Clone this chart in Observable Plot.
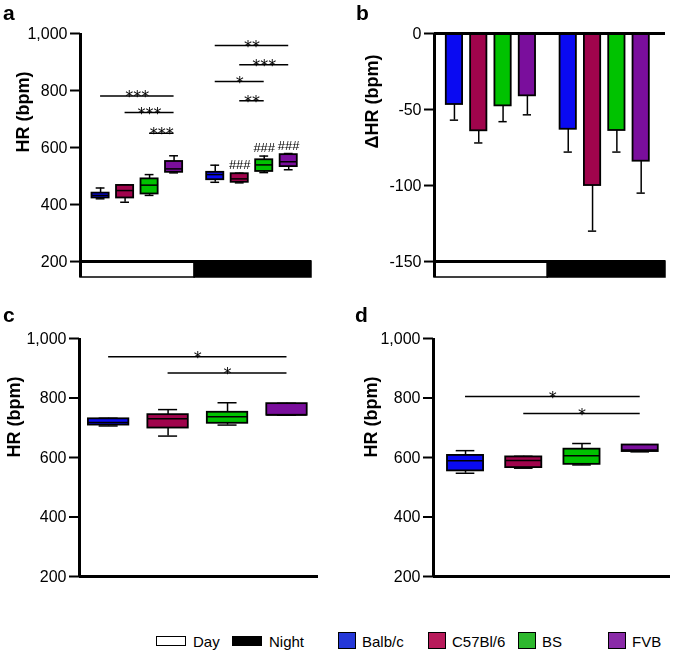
<!DOCTYPE html>
<html><head><meta charset="utf-8">
<script src="https://cdn.jsdelivr.net/npm/d3@7"></script>
<script src="https://cdn.jsdelivr.net/npm/@observablehq/plot@0.6"></script>
<style>
html,body{margin:0;padding:0;background:#fff;}
#fig{position:relative;width:675px;height:653px;overflow:hidden;font-family:"Liberation Sans",Arial,sans-serif;color:#000;}
.panel{position:absolute;will-change:transform;}
.plabel{position:absolute;font-weight:bold;font-size:21px;line-height:22px;}
.leg{position:absolute;font-size:15px;line-height:15px;white-space:nowrap;}
.sw{position:absolute;box-sizing:border-box;border:1.5px solid #000;}
</style></head><body><div id="fig"></div><script>
// ---------- data ----------
const strains = ["Balb/c", "C57Bl/6", "BS", "FVB"];
const strainColors = ["#0a0af2", "#a0044c", "#00c200", "#7a0e9c"];
const legendColors = ["#2538d8", "#b81b5b", "#2db82d", "#8a2ba8"];
const periods = ["Day", "Night"];
const periodFills = ["white", "black"];

// box stats: [min, q1, median, q3, max] per strain
const aDayStats = [[420, 423, 432, 440, 458], [408, 423, 449, 467, 469], [432, 437, 468, 490, 505], [511, 513, 525, 551, 571]];
const aNightStats = [[478, 487, 505, 513, 538], [476, 478, 490, 508, 510], [512, 516, 539, 557, 570], [522, 533, 550, 575, 579]];
const aNightHash = ["", "###", "###", "###"];
// significance: [fromStrain, toStrain, y, label]
const aSigDay = [[0, 3, 781, "***"], [1, 3, 723, "***"], [2, 3, 650, "***"]];
const aSigNight = [[0, 3, 958, "**"], [1, 3, 890, "***"], [0, 2, 832, "*"], [1, 2, 764, "**"]];

const bDayMean = [-46.7, -64, -47.6, -41];
const bDayErr = [10.3, 8, 10.4, 12.5];
const bNightMean = [-63, -100, -63.8, -84];
const bNightErr = [15, 30, 14.2, 21];

const cStats = [[706, 709, 718, 730, 732], [672, 699, 730, 744, 761], [709, 715, 737, 752, 784], [742, 742, 743, 781, 782]];
const cSig = [[0, 3, 939, "*"], [1, 3, 884, "*"]];
const dStats = [[547, 555, 589, 607, 623], [564, 566, 590, 602, 604], [575, 577, 606, 628, 647], [619, 620, 625, 642, 643]];
const dSig = [[0, 3, 805, "*"], [1, 3, 748, "*"]];

const hrTicks = [200, 400, 600, 800, 1000];
const dhrTicks = [0, -50, -100, -150];

// ---------- layout ----------
const nightOffset = 4.68;
const split = (3 + nightOffset) / 2;
const fig = document.getElementById("fig");
const font = "'Liberation Sans', Arial, sans-serif";
const baseStyle = {fontSize: "16px", fontFamily: font, color: "black", background: "transparent", overflow: "visible"};
const colorScale = {domain: strains, range: strainColors};

function boxRows(stats, offset) {
  return stats.map((s, i) => ({strain: strains[i], i, pos: i + offset, min: s[0], q1: s[1], median: s[2], q3: s[3], max: s[4]}));
}
function boxMarks(rows, hw, cw) {
  const sw = 1.5;
  return [
    Plot.ruleX(rows, {x: "pos", y1: "q3", y2: "max", stroke: "black", strokeWidth: sw}),
    Plot.ruleX(rows, {x: "pos", y1: "min", y2: "q1", stroke: "black", strokeWidth: sw}),
    Plot.ruleY(rows, {x1: d => d.pos - cw, x2: d => d.pos + cw, y: "max", stroke: "black", strokeWidth: sw}),
    Plot.ruleY(rows, {x1: d => d.pos - cw, x2: d => d.pos + cw, y: "min", stroke: "black", strokeWidth: sw}),
    Plot.rect(rows, {x1: d => d.pos - hw, x2: d => d.pos + hw, y1: "q1", y2: "q3", fill: "strain", stroke: "black", strokeWidth: 1.8}),
    Plot.ruleY(rows, {x1: d => d.pos - hw, x2: d => d.pos + hw, y: "median", stroke: "black", strokeWidth: sw})
  ];
}
function sigMarks(sig, offset) {
  const rows = sig.map(([a, b, y, label]) => ({x1: a + offset, x2: b + offset, y, label}));
  return [
    Plot.ruleY(rows, {x1: "x1", x2: "x2", y: "y", stroke: "black", strokeWidth: 1.5}),
    Plot.text(rows, {x: d => (d.x1 + d.x2) / 2, y: "y", text: "label", fill: "black", fontFamily: "DejaVu Sans", fontSize: 16, lineAnchor: "middle", dy: 1})
  ];
}
function dayNight(xMin, xMax, yTop, yBottom) {
  const rows = periods.map((p, k) => ({period: p, x1: k === 0 ? xMin : split, x2: k === 0 ? split : xMax, fill: periodFills[k]}));
  return Plot.rect(rows, {x1: "x1", x2: "x2", y1: () => yTop, y2: () => yBottom, fill: d => d.fill, stroke: "black", strokeWidth: 1.5});
}
function yLabel(text, dx, dy) {
  return Plot.text([text], {frameAnchor: "left", rotate: -90, dx, dy, fontWeight: "bold", fontSize: 18, fontFamily: font});
}
function place(node, left, top) {
  node.classList.add("panel");
  node.style.left = left + "px";
  node.style.top = top + "px";
  fig.appendChild(node);
}

// ---------- panel a ----------
{
  const xd = [-0.82, 8.61], yd = [144, 1000];
  const dayRows = boxRows(aDayStats, 0), nightRows = boxRows(aNightStats, nightOffset);
  const hashRows = nightRows.filter(d => aNightHash[d.i]);
  const p = Plot.plot({
    width: 337, height: 290, marginLeft: 80, marginRight: 26, marginTop: 33, marginBottom: 13,
    x: {domain: xd, axis: null}, y: {domain: yd, axis: null}, color: colorScale, style: baseStyle,
    marks: [
      dayNight(xd[0], xd[1], 200, yd[0]),
      Plot.ruleY([200], {x1: xd[0], x2: xd[1], stroke: "black", strokeWidth: 3}),
      Plot.ruleX([xd[0]], {y1: yd[0], y2: 1000, stroke: "black", strokeWidth: 3}),
      Plot.axisY({ticks: hrTicks, tickFormat: d3.format(","), tickSize: 10, tickPadding: 3, strokeWidth: 2, label: null}),
      ...boxMarks(dayRows, 0.35, 0.18),
      ...boxMarks(nightRows, 0.35, 0.18),
      ...sigMarks(aSigDay, 0),
      ...sigMarks(aSigNight, nightOffset),
      Plot.text(hashRows, {x: "pos", y: "max", text: d => aNightHash[d.i], fill: "black", fontSize: 13, fontFamily: font, lineAnchor: "bottom", dy: -4}),
      yLabel("HR (bpm)", -57, -3)
    ]
  });
  place(p, 0, 0);
}

// ---------- panel b ----------
{
  const xd = [-0.82, 8.68], yd = [-160.5, 0];
  const rows = [
    ...bDayMean.map((m, i) => ({strain: strains[i], pos: i, mean: m, err: bDayErr[i]})),
    ...bNightMean.map((m, i) => ({strain: strains[i], pos: i + nightOffset, mean: m, err: bNightErr[i]}))
  ];
  const hw = 0.335, cw = 0.17;
  const p = Plot.plot({
    width: 338, height: 290, marginLeft: 97, marginRight: 10, marginTop: 33, marginBottom: 13,
    x: {domain: xd, axis: null}, y: {domain: yd, axis: null}, color: colorScale, style: baseStyle,
    marks: [
      dayNight(xd[0], xd[1], -150, yd[0]),
      Plot.ruleY([-150], {x1: xd[0], x2: xd[1], stroke: "black", strokeWidth: 3}),
      Plot.ruleX(rows, {x: "pos", y1: "mean", y2: d => d.mean - d.err, stroke: "black", strokeWidth: 1.5}),
      Plot.ruleY(rows, {x1: d => d.pos - cw, x2: d => d.pos + cw, y: d => d.mean - d.err, stroke: "black", strokeWidth: 1.5}),
      Plot.rect(rows, {x1: d => d.pos - hw, x2: d => d.pos + hw, y1: () => 0, y2: "mean", fill: "strain", stroke: "black", strokeWidth: 1.8}),
      Plot.ruleY([0], {x1: xd[0], x2: xd[1], stroke: "black", strokeWidth: 3}),
      Plot.ruleX([xd[0]], {y1: yd[0], y2: 0, stroke: "black", strokeWidth: 3}),
      Plot.axisY({ticks: dhrTicks, tickFormat: d => String(d), tickSize: 10, tickPadding: 3, strokeWidth: 2, label: null}),
      yLabel("ΔHR (bpm)", -62, -7)
    ]
  });
  place(p, 337, 0);
}

// ---------- panels c, d ----------
function hrPanel(stats, sig, xd, left, ml, mr, hw, cw, ldx) {
  const yd = [200, 1000];
  const rows = boxRows(stats, 0);
  const p = Plot.plot({
    width: 337, height: 300, marginLeft: ml, marginRight: mr, marginTop: 43, marginBottom: 19,
    x: {domain: xd, axis: null}, y: {domain: yd, axis: null}, color: colorScale, style: baseStyle,
    marks: [
      Plot.ruleY([200], {x1: xd[0], x2: xd[1], stroke: "black", strokeWidth: 3}),
      Plot.ruleX([xd[0]], {y1: 200, y2: 1000, stroke: "black", strokeWidth: 3}),
      Plot.axisY({ticks: hrTicks, tickFormat: d3.format(","), tickSize: 10, tickPadding: 3, strokeWidth: 2, label: null}),
      ...boxMarks(rows, hw, cw),
      ...sigMarks(sig, 0),
      yLabel("HR (bpm)", ldx, 0)
    ]
  });
  place(p, left, 295);
}
hrPanel(cStats, cSig, [-0.49, 3.53], 0, 79, 19, 0.34, 0.16, -65);
hrPanel(dStats, dSig, [-0.55, 3.52], 338, 95, 5, 0.31, 0.16, -62);

// ---------- panel letters ----------
[["a", 3, 2], ["b", 356, 2], ["c", 3, 304], ["d", 355, 304]].forEach(([t, x, y]) => {
  const el = document.createElement("div");
  el.className = "plabel"; el.textContent = t;
  el.style.left = x + "px"; el.style.top = y + "px";
  fig.appendChild(el);
});

// ---------- legend ----------
function addSwatch(x, y, w, h, bg) {
  const s = document.createElement("div");
  s.className = "sw";
  Object.assign(s.style, {left: x + "px", top: y + "px", width: w + "px", height: h + "px", background: bg});
  fig.appendChild(s);
}
function addText(x, t) {
  const el = document.createElement("div");
  el.className = "leg"; el.textContent = t;
  el.style.left = x + "px"; el.style.top = "634px";
  fig.appendChild(el);
}
const periodLegendX = [156, 232];
periods.forEach((p, k) => { addSwatch(periodLegendX[k], 636, 30, 10, periodFills[k]); addText(periodLegendX[k] + 37, p); });
const strainLegendX = [338, 428, 518, 608];
strains.forEach((s, k) => { addSwatch(strainLegendX[k], 632, 18, 17, legendColors[k]); addText(strainLegendX[k] + 24, s); });
</script></body></html>
